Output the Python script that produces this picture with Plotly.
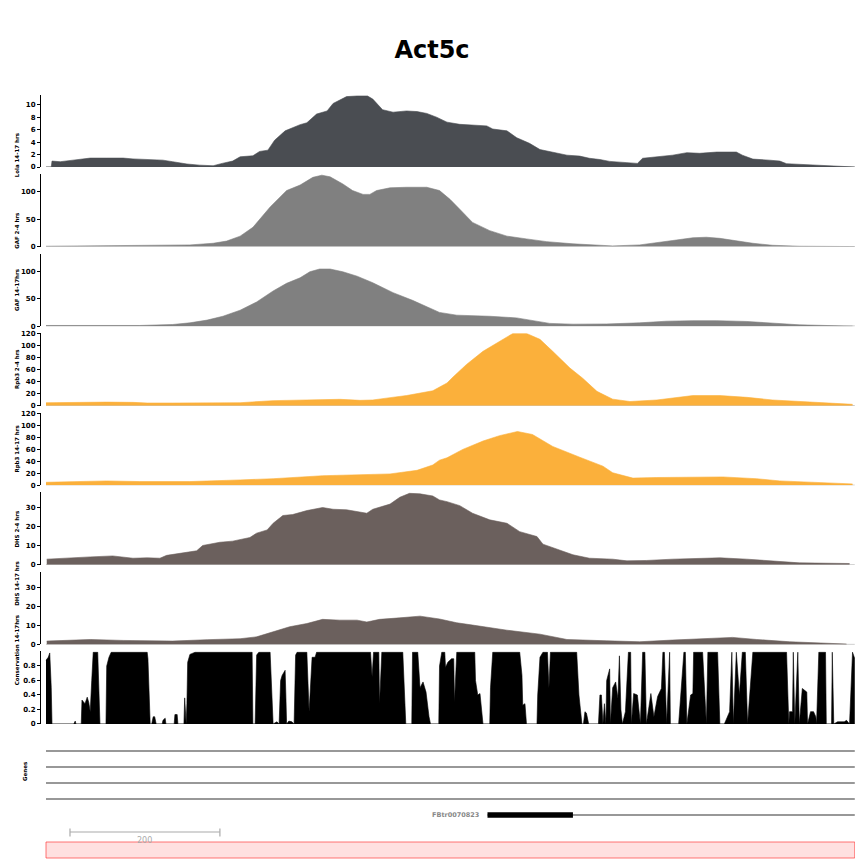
import plotly.graph_objects as go

# window around Act5c, positions in bp from the window start
region_len = 1079

lola_pos = [0, 7, 8, 19, 36, 59, 81, 103, 116, 135,
            156, 169, 188, 205, 223, 235, 249, 259, 276, 285,
            296, 305, 319, 339, 348, 361, 375, 383, 401, 415,
            429, 436, 449, 463, 481, 495, 508, 521, 535, 552,
            569, 588, 596, 615, 628, 645, 659, 676, 695, 712,
            725, 739, 752, 775, 789, 796, 815, 836, 855, 872,
            895, 921, 929, 943, 965, 979, 988, 1015, 1036, 1056,
            1060, 1079]
lola_val = [0, 0, 0.95, 0.85, 1.1, 1.43, 1.43, 1.43, 1.3, 1.16,
            1.1, 0.85, 0.48, 0.3, 0.2, 0.58, 0.95, 1.64, 1.8, 2.5,
            2.7, 4.3, 5.8, 6.8, 7.1, 8.5, 9.0, 10.2, 11.3, 11.4,
            11.4, 10.9, 9.2, 8.8, 9.0, 8.9, 8.6, 8.0, 7.2, 6.85,
            6.7, 6.6, 6.1, 5.8, 4.7, 3.8, 2.8, 2.4, 1.9, 1.75,
            1.4, 1.2, 0.9, 0.7, 0.58, 1.4, 1.64, 1.9, 2.3, 2.2,
            2.4, 2.4, 1.9, 1.27, 1.1, 0.95, 0.53, 0.37, 0.2, 0.1,
            0, 0]

gaf24_pos = [0, 125, 192, 223, 241, 259, 276, 299, 321, 339,
             356, 368, 379, 396, 409, 423, 432, 441, 459, 481,
             508, 525, 539, 552, 569, 592, 615, 641, 668, 703,
             739, 756, 792, 815, 836, 863, 881, 899, 916, 943,
             969, 1005, 1079]
gaf24_val = [0.6, 1.8, 3, 6, 10, 19, 35, 72, 102, 112,
             126, 130, 127, 114, 102, 95, 95, 102, 107, 108,
             108, 102, 86, 68, 44, 29, 19, 14, 9, 5,
             1.8, 1.2, 3, 6.7, 11, 16, 17, 15, 11, 6,
             2.4, 0.6, 0]

gaf1417_pos = [0, 125, 169, 192, 215, 236, 259, 281, 303, 321,
               339, 352, 365, 379, 396, 415, 436, 463, 489, 508,
               525, 548, 592, 628, 659, 672, 703, 748, 792, 828,
               863, 895, 935, 969, 1005, 1076]
gaf1417_val = [1.2, 1.2, 3, 6, 11, 18, 29, 44, 64, 78,
               88, 99, 104, 104, 99, 91, 79, 61, 47, 35,
               25, 20, 18, 15, 8, 5, 3.6, 4, 6, 9,
               10, 10, 8.5, 5, 2.4, 0]

rpb24_pos = [0, 36, 81, 116, 135, 169, 215, 259, 303, 348,
             392, 419, 436, 459, 481, 516, 535, 543, 561, 583,
             605, 623, 641, 659, 676, 699, 716, 735, 756, 779,
             815, 863, 899, 935, 969, 1015, 1076]
rpb24_val = [5, 6, 6, 5.6, 4.5, 4.5, 4.5, 5, 8.5, 10,
             10.7, 9, 9.6, 13.5, 17, 25, 38, 48, 69, 91,
             108, 121, 121, 111, 91, 63, 46, 24, 11, 7,
             9.6, 17, 17, 14, 9.6, 6, 2.3]

rpb1417_pos = [0, 81, 125, 192, 259, 303, 369, 415, 459, 495,
               516, 525, 535, 556, 583, 605, 629, 649, 676, 712,
               743, 756, 783, 815, 859, 903, 948, 979, 1076]
rpb1417_val = [5, 7.3, 6.2, 6.2, 9, 11, 16, 17, 19, 25,
               34, 42, 46, 60, 74, 83, 90, 85, 65, 47,
               32, 21, 12, 13, 14, 14, 11, 7.3, 2.3]

dhs24_pos = [1, 36, 59, 89, 103, 116, 135, 152, 161, 179,
             201, 209, 232, 249, 272, 281, 295, 303, 316, 329,
             348, 369, 383, 401, 419, 428, 436, 459, 472, 485,
             499, 516, 525, 535, 552, 569, 592, 615, 632, 655,
             663, 685, 703, 725, 756, 775, 801, 836, 863, 899,
             935, 969, 1005, 1072]
dhs24_val = [3, 3.5, 4.2, 4.7, 4.2, 3.5, 3.7, 3.5, 5, 6.1,
             7.4, 10.2, 11.9, 12.5, 14.4, 16.7, 18.4, 21.9, 26, 26.5,
             28.6, 30.2, 29.3, 29, 28, 27.2, 29.3, 32, 35.6, 37.7,
             37.4, 36.3, 34.2, 33.3, 31.2, 27.2, 23.7, 21.9, 17.5, 14.9,
             10.9, 7.9, 5.3, 3.5, 3, 2.1, 2.3, 3, 3.2, 3.7,
             3, 2.1, 1.05, 0.7]

dhs1417_pos = [1, 59, 103, 169, 215, 259, 281, 303, 325, 348,
               369, 392, 415, 428, 445, 472, 499, 525, 548, 569,
               615, 659, 695, 748, 792, 836, 881, 916, 948, 992,
               1068]
dhs1417_val = [1.75, 2.6, 2.1, 1.75, 2.5, 3, 4, 6.7, 9.3, 11,
               13.2, 12.8, 12.8, 11.8, 13.2, 14, 14.9, 13.4, 11.4, 10.2,
               7.5, 5.4, 2.6, 1.9, 1.4, 2.3, 3, 3.7, 2.6, 1.4,
               0.2]

cons_pos = [0, 3, 5, 7, 8, 37, 39, 40, 47, 48,
            52, 55, 57, 59, 61, 63, 69, 72, 80, 81,
            84, 87, 135, 136, 139, 141, 143, 145, 147, 155,
            156, 159, 160, 171, 172, 175, 176, 184, 185, 187,
            188, 189, 192, 199, 275, 276, 279, 281, 284, 299,
            303, 308, 311, 313, 315, 317, 319, 320, 321, 324,
            328, 331, 333, 335, 348, 351, 355, 359, 361, 433,
            435, 437, 444, 445, 448, 476, 480, 488, 489, 496,
            499, 503, 507, 511, 513, 524, 525, 528, 532, 533,
            536, 541, 544, 545, 548, 572, 573, 576, 579, 583,
            592, 593, 595, 596, 632, 635, 636, 639, 641, 655,
            656, 659, 663, 669, 671, 673, 708, 711, 715, 717,
            719, 721, 724, 737, 739, 741, 743, 745, 747, 748,
            752, 753, 756, 760, 763, 765, 767, 769, 773, 777,
            780, 781, 784, 789, 793, 796, 799, 801, 807, 811,
            816, 821, 823, 825, 828, 832, 833, 844, 851, 853,
            855, 860, 863, 864, 876, 879, 881, 883, 896, 899,
            905, 912, 915, 917, 921, 925, 929, 933, 936, 943,
            988, 991, 992, 996, 997, 999, 1003, 1005, 1009, 1015,
            1016, 1020, 1024, 1027, 1028, 1031, 1040, 1041, 1048, 1049,
            1051, 1056, 1065, 1068, 1072, 1076, 1079]
cons_val = [0.88, 0.92, 0.98, 0.5, 0, 0, 0.04, 0, 0, 0.33,
            0.28, 0.37, 0.3, 0.17, 0.6, 0.99, 0.99, 0, 0, 0.8,
            0.92, 0.99, 0.99, 0.9, 0, 0, 0.1, 0.1, 0, 0,
            0.05, 0.08, 0, 0, 0.13, 0.13, 0, 0, 0.36, 0,
            0.28, 0.85, 0.96, 0.99, 0.99, 0, 0, 0.95, 0.99, 0.99,
            0, 0.03, 0, 0.6, 0.67, 0.7, 0.74, 0.4, 0, 0.04,
            0.03, 0, 0.95, 0.99, 0.99, 0.17, 0.92, 0.92, 0.99, 0.99,
            0.65, 0.99, 0.99, 0.28, 0.99, 0.99, 0, 0, 0.99, 0.99,
            0.5, 0.58, 0.44, 0.1, 0, 0, 0.8, 0.99, 0.99, 0.78,
            0.85, 0.9, 0.9, 0.3, 0.99, 0.99, 0.6, 0.4, 0.42, 0,
            0, 0.5, 0.76, 0.99, 0.99, 0.67, 0.26, 0.28, 0, 0,
            0.4, 0.92, 0.99, 0.99, 0.5, 0.99, 0.99, 0.4, 0, 0,
            0.17, 0.15, 0, 0, 0.4, 0.4, 0, 0.28, 0, 0.6,
            0.76, 0, 0.5, 0.58, 0.35, 0.94, 0.2, 0, 0.17, 0.99,
            0.99, 0, 0.42, 0.4, 0, 0.99, 0.99, 0, 0.42, 0.1,
            0.38, 0.49, 0.99, 0.99, 0, 0.99, 0, 0, 0.99, 0.99,
            0, 0.4, 0.42, 0.99, 0.99, 0.4, 0, 0.99, 0.99, 0,
            0, 0.17, 0.99, 0, 0.99, 0.4, 0.99, 0.99, 0, 0.99,
            0.99, 0, 0.17, 0.17, 0.99, 0, 0.99, 0, 0.49, 0.44,
            0, 0.17, 0.17, 0.1, 0, 0.99, 0.99, 0, 0, 0.99,
            0, 0.03, 0.03, 0.05, 0, 0.99, 0.9]

# gene models: rows of transcripts spanning the window, plus the labelled one
gene_rows = [0, 1, 2, 3]
tx_name = "FBtr0070823"
tx_row = 4
tx_start, tx_end = 589, 1079
exon_start, exon_end = 589, 703

scale_start, scale_len = 32, 200

tracks = [
    ("Lola 14-17 hrs", lola_pos, lola_val, "#4a4d52", 11.64, [0, 2, 4, 6, 8, 10]),
    ("GAF 2-4 hrs", gaf24_pos, gaf24_val, "#808080", 132, [0, 50, 100]),
    ("GAF 14-17hrs", gaf1417_pos, gaf1417_val, "#808080", 132, [0, 50, 100]),
    ("Rpb3 2-4 hrs", rpb24_pos, rpb24_val, "#fbb03b", 121.3, [0, 20, 40, 60, 80, 100, 120]),
    ("Rpb3 14-17 hrs", rpb1417_pos, rpb1417_val, "#fbb03b", 121.3, [0, 20, 40, 60, 80, 100, 120]),
    ("DHS 2-4 hrs", dhs24_pos, dhs24_val, "#6b605d", 38.2, [0, 10, 20, 30]),
    ("DHS 14-17 hrs", dhs1417_pos, dhs1417_val, "#6b605d", 38.2, [0, 10, 20, 30]),
    ("Conservation 14-17hrs", cons_pos, cons_val, "#000000", 1.0, [0, 0.2, 0.4, 0.6, 0.8]),
]

H = 864


def py(px):
    # pixel row -> paper y (margins top/bottom are 0)
    return 1 - px / H


bold = dict(family="DejaVu Sans", color="black", weight="bold")
label_x = -0.0356

fig = go.Figure()
layout = {}

for i, (label, pos, val, color, ymax, ticks) in enumerate(tracks):
    n = i + 1
    ya = "y" if n == 1 else "y%d" % n
    top = 94.5 + 79.57 * i
    bot = top + 72.5
    fig.add_trace(go.Scatter(x=[0, region_len], y=[0, 0], mode="lines",
                             line=dict(color="#a8a8a8", width=1),
                             xaxis="x", yaxis=ya, hoverinfo="skip"))
    fig.add_trace(go.Scatter(x=pos, y=val, mode="lines", fill="tozeroy",
                             fillcolor=color, line=dict(color=color, width=0.6),
                             xaxis="x", yaxis=ya))
    layout["yaxis" if n == 1 else "yaxis%d" % n] = dict(
        domain=[py(bot), py(top)], range=[0, ymax], anchor="x", automargin=False,
        tickvals=ticks, ticks="outside", ticklen=3, tickwidth=1, tickcolor="black",
        showline=True, linecolor="black", linewidth=1,
        showgrid=False, zeroline=False, tickfont=dict(size=7, **bold),
    )
    fig.add_annotation(text=label, x=label_x, xref="paper", y=py((top + bot) / 2),
                       yref="paper", textangle=-90, showarrow=False,
                       font=dict(size=5.5, **bold))

# genes track
layout["yaxis9"] = dict(domain=[py(823), py(743)], range=[4.5, -0.5], anchor="x",
                        visible=False, automargin=False)
for r in gene_rows:
    fig.add_trace(go.Scatter(x=[0, region_len], y=[r, r], mode="lines",
                             line=dict(color="#333333", width=1.1),
                             xaxis="x", yaxis="y9", hoverinfo="skip"))
fig.add_trace(go.Scatter(x=[tx_start, tx_end], y=[tx_row, tx_row], mode="lines",
                         line=dict(color="#333333", width=1.1), xaxis="x", yaxis="y9"))
fig.add_trace(go.Scatter(x=[exon_start, exon_end], y=[tx_row, tx_row], mode="lines",
                         line=dict(color="black", width=5.5), xaxis="x", yaxis="y9"))
fig.add_annotation(text=tx_name, x=tx_start - 9, xref="x", y=tx_row, yref="y9",
                   xanchor="right", showarrow=False,
                   font=dict(family="DejaVu Sans", size=6.5, color="#888888", weight="bold"))
fig.add_annotation(text="Genes", x=(20 - 41) / 814, xref="paper", y=py(783), yref="paper",
                   textangle=-90, showarrow=False, font=dict(size=5.5, **bold))

# scale bar
sb_y = py(832)
fig.add_shape(type="line", xref="x", yref="paper", x0=scale_start, x1=scale_start + scale_len,
              y0=sb_y, y1=sb_y, line=dict(color="#aaaaaa", width=1.2))
for xx in (scale_start, scale_start + scale_len):
    fig.add_shape(type="line", xref="x", yref="paper", x0=xx, x1=xx,
                  y0=py(836.5), y1=py(828.5), line=dict(color="#aaaaaa", width=1.2))
fig.add_annotation(text=str(scale_len), x=scale_start + scale_len / 2, xref="x",
                   y=py(834), yref="paper", yanchor="top", showarrow=False,
                   font=dict(family="DejaVu Sans", size=8, color="#aaaaaa"))

# highlighted region
fig.add_shape(type="rect", xref="x", yref="paper", x0=0, x1=region_len,
              y0=py(858), y1=py(842), fillcolor="rgba(255,0,0,0.12)",
              line=dict(color="rgba(255,60,60,0.7)", width=1))

fig.update_layout(
    width=864, height=864,
    margin=dict(l=41, r=9, t=0, b=0, pad=0, autoexpand=False),
    paper_bgcolor="white", plot_bgcolor="white",
    showlegend=False,
    title=dict(text="Act5c", x=0.5, xref="container", xanchor="center",
               y=1 - 50 / H, yref="container", yanchor="middle",
               font=dict(family="DejaVu Sans", size=24, color="black", weight="bold")),
    xaxis=dict(domain=[0, 1], range=[-6.67, 1079.3], visible=False, anchor="y8",
               automargin=False),
    **layout,
)

# page body margin would offset the figure inside the window
fig.write_html("out.html", config={"displayModeBar": False},
               post_script="document.body.style.margin='0';")
